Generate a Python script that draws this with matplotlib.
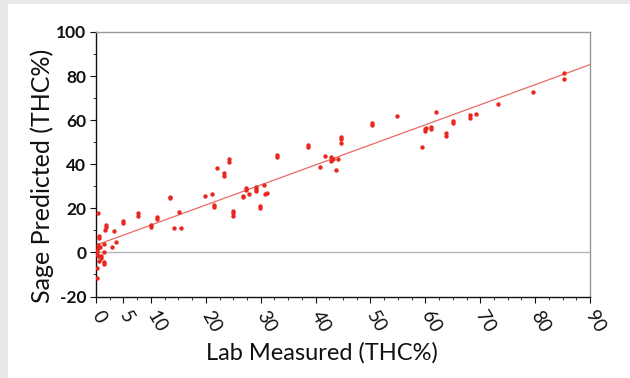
import matplotlib

matplotlib.use("Agg", force=True)
import matplotlib.pyplot as plt
from matplotlib.patches import Rectangle
from matplotlib.ticker import MultipleLocator
import numpy as np

plt.rcParams["font.family"] = ["Lato", "DejaVu Sans"]

# lab measured vs predicted THC%
lab_measured = [
    0.3, 0.6, 0.6, 1.8, 1.9, 1.7, 3.3, 3.6, 2.9, 1.5,
    0.3, 0.3, 0.1, 0.1, 0.3, 1.4, 0.85, 0.85, 0.6, 1.4,
    1.4, 0.2, 0.1, 0.7, 5.0, 5.0, 7.6, 7.6, 10.0, 10.0,
    11.2, 11.2, 13.5, 13.5, 15.2, 14.3, 15.5, 19.9, 21.2, 21.5,
    21.5, 25.0, 25.0, 25.0, 26.7, 26.7, 27.3, 27.3, 27.8, 29.1,
    29.1, 29.1, 29.8, 29.8, 30.6, 30.7, 31.1, 22.0, 23.3, 23.3,
    24.3, 24.3, 33.0, 33.0, 38.6, 38.6, 40.9, 41.7, 42.9, 42.9,
    43.2, 44.0, 43.7, 44.6, 44.6, 44.6, 50.3, 50.3, 54.8, 59.4,
    59.9, 59.9, 60.1, 61.0, 61.0, 61.9, 63.7, 63.7, 65.1, 65.1,
    68.1, 68.1, 69.2, 73.2, 79.6, 85.2, 85.2,
]
sage_predicted = [
    17.7, 7.6, 6.6, 12.4, 11.5, 10.3, 9.5, 4.5, 2.4, 3.6,
    3.2, 1.9, 0.5, -0.6, -1.7, 0.1, -1.8, -2.6, -4.0, -4.3,
    -5.1, -7.2, -11.8, 2.3, 14.1, 13.5, 18.0, 16.6, 12.4, 11.6,
    15.9, 15.1, 25.3, 24.6, 18.5, 10.9, 10.9, 25.6, 26.5, 21.5,
    20.7, 18.7, 17.7, 16.5, 25.6, 25.0, 29.1, 28.3, 26.5, 29.8,
    28.6, 27.8, 21.0, 20.2, 30.6, 26.5, 27.1, 38.2, 35.9, 34.7,
    42.4, 41.2, 44.2, 43.5, 48.8, 48.0, 38.9, 43.9, 43.2, 41.6,
    42.3, 42.4, 37.6, 52.5, 51.4, 49.6, 58.9, 57.8, 62.0, 47.7,
    55.0, 55.8, 56.5, 56.7, 55.9, 63.9, 54.0, 53.0, 59.7, 58.6,
    62.3, 61.2, 62.6, 67.4, 72.9, 81.4, 78.6,
]

# fitted trend line
fit_intercept = 3.3
fit_slope = 0.91

x_ticks = [0, 5, 10, 20, 30, 40, 50, 60, 70, 80, 90]
y_ticks = [-20, 0, 20, 40, 60, 80, 100]

fig = plt.figure(figsize=(6.3, 3.78), dpi=100)
fig.patch.set_facecolor("#e9e9e9")
fig.patches.append(
    Rectangle((8 / 630, 0), 1, 1 - 4 / 378, transform=fig.transFigure,
              facecolor="white", edgecolor="none", zorder=-5)
)

ax = fig.add_axes([96 / 630, 1 - 296.5 / 378, 494 / 630, 264.5 / 378])
ax.set_facecolor("white")

ax.scatter(lab_measured, sage_predicted, s=10, color="#e8281e", linewidths=0, zorder=3)
line_x = np.array([0, 90])
ax.plot(line_x, fit_intercept + fit_slope * line_x, color="#e86a66", linewidth=0.9, zorder=2)
ax.axhline(0, color="#b4b4b4", linewidth=1.0, zorder=1)

ax.set_xlim(0, 90)
ax.set_ylim(-20, 100)
ax.set_xticks(x_ticks)
ax.set_xticklabels([str(v) for v in x_ticks], rotation=-60, ha="left", va="center",
                   rotation_mode="anchor", fontsize=13.5)
ax.xaxis.set_minor_locator(MultipleLocator(2.5))
ax.set_yticks(y_ticks)
ax.set_yticklabels([str(v) for v in y_ticks], fontsize=12.5, fontweight="bold")
ax.yaxis.set_minor_locator(MultipleLocator(10))

ax.tick_params(axis="x", which="major", length=4, width=0.8, pad=7, colors="#111111")
ax.tick_params(axis="x", which="minor", length=2.5, width=0.6, color="#111111")
ax.tick_params(axis="y", which="major", length=4, width=0.8, pad=3, colors="#111111")
ax.tick_params(axis="y", which="minor", length=2.5, width=0.6, color="#111111")

for side in ("left", "bottom"):
    ax.spines[side].set_color("#111111")
    ax.spines[side].set_linewidth(1.0)
for side in ("top", "right"):
    ax.spines[side].set_color("#9a9a9a")
    ax.spines[side].set_linewidth(1.0)

fig.text(42 / 630, 1 - 176 / 378, "Sage Predicted (THC%)", rotation=90,
         ha="center", va="center", fontsize=18, color="#111111")
fig.text(322 / 630, 1 - 353 / 378, "Lab Measured (THC%)",
         ha="center", va="center", fontsize=17, color="#111111")

fig.savefig("out.png", dpi=100, facecolor=fig.get_facecolor())
